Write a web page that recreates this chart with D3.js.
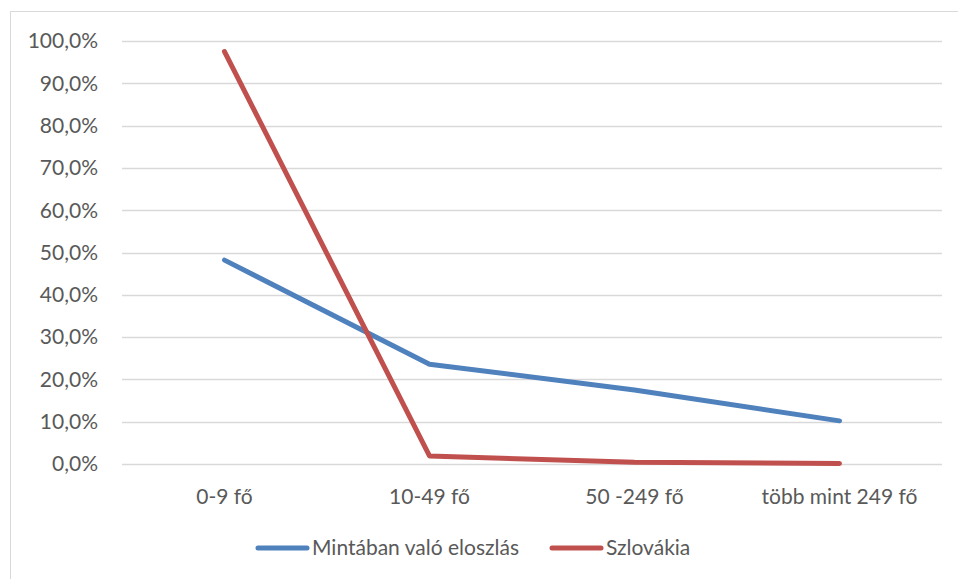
<!DOCTYPE html>
<html>
<head>
<meta charset="utf-8">
<script src="https://cdn.jsdelivr.net/npm/d3@7"></script>
<style>
  body { margin: 0; background: #fff; }
  svg text { font-family: Lato, "Open Sans", sans-serif; fill: #595959; }
</style>
</head>
<body>
<div id="chart"></div>
<script>
let categories = ['0-9 fő', '10-49 fő', '50 -249 fő', 'több mint 249 fő'];
let mintaban = [48.2, 23.6, 17.5, 10.2];
let szlovakia = [97.5, 1.9, 0.4, 0.1];
let seriesNames = ['Mintában való eloszlás', 'Szlovákia'];
let colors = ['#4F81BD', '#C0504D'];
let yTicks = d3.range(0, 101, 10);

let width = 958, height = 579;
let margin = {top: 41, right: 16, bottom: 115, left: 122};
let fontSize = '21px';

let svg = d3.select('#chart').append('svg')
  .attr('width', width).attr('height', height);

svg.append('rect')
  .attr('x', 10.5).attr('y', 11.5)
  .attr('width', width - 10).attr('height', height - 11)
  .attr('fill', 'none').attr('stroke', '#d9d9d9');

let x = d3.scaleBand().domain(categories)
  .range([margin.left, width - margin.right]);
let y = d3.scaleLinear().domain([0, 100])
  .range([height - margin.bottom, margin.top]);

// gridlines
svg.append('g').selectAll('line')
  .data(yTicks).enter().append('line')
  .attr('x1', margin.left).attr('x2', width - margin.right)
  .attr('y1', d => Math.round(y(d)) + 0.5).attr('y2', d => Math.round(y(d)) + 0.5)
  .attr('stroke', '#d9d9d9').attr('stroke-width', 1.5);

// y labels
svg.append('g').selectAll('text')
  .data(yTicks).enter().append('text')
  .attr('x', 98).attr('y', d => y(d))
  .attr('dy', '0.35em').attr('text-anchor', 'end')
  .style('font-size', fontSize)
  .text(d => d.toFixed(1).replace('.', ',') + '%');

// x labels
svg.append('g').selectAll('text')
  .data(categories).enter().append('text')
  .attr('x', d => x(d) + x.bandwidth() / 2).attr('y', 497)
  .attr('dy', '0.35em')
  .attr('text-anchor', 'middle')
  .style('font-size', fontSize)
  .text(d => d);

let line = d3.line()
  .x((d, i) => x(categories[i]) + x.bandwidth() / 2)
  .y(d => y(d));

[mintaban, szlovakia].forEach(function(s, i) {
  svg.append('path')
    .datum(s)
    .attr('d', line)
    .attr('fill', 'none')
    .attr('stroke', colors[i])
    .attr('stroke-width', 5)
    .attr('stroke-linecap', 'round')
    .attr('stroke-linejoin', 'round');
});

// legend
let legendX = [258, 552];
let legend = svg.append('g').selectAll('g')
  .data(seriesNames).enter().append('g')
  .attr('transform', (d, i) => 'translate(' + legendX[i] + ',548)');
legend.append('line')
  .attr('x1', 0).attr('x2', 49)
  .attr('stroke', (d, i) => colors[i])
  .attr('stroke-width', 5)
  .attr('stroke-linecap', 'round');
legend.append('text')
  .attr('x', 54).attr('dy', '0.35em')
  .style('font-size', fontSize)
  .text(d => d);
</script>
</body>
</html>
